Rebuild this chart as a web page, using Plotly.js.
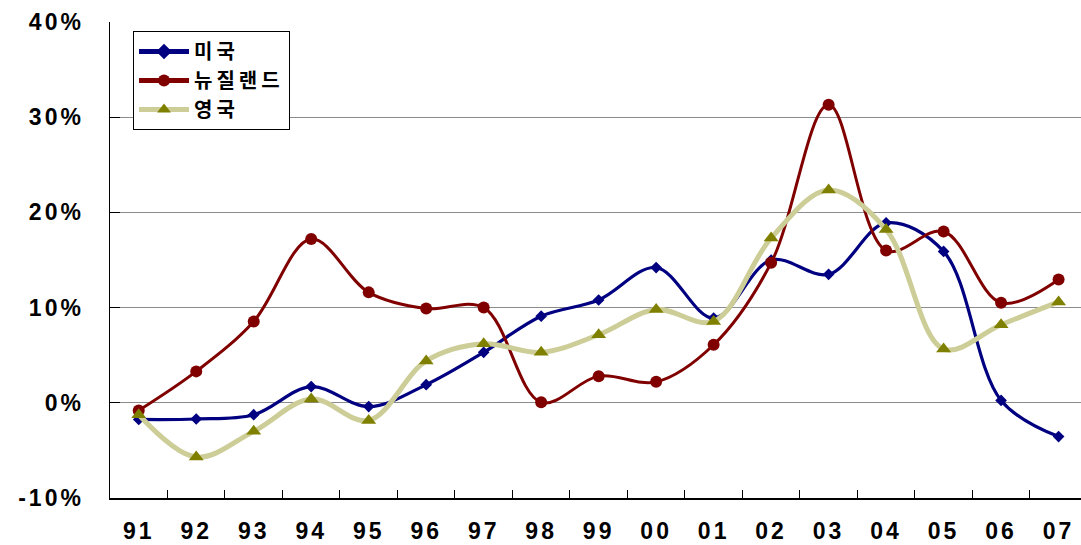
<!DOCTYPE html>
<html>
<head>
<meta charset="utf-8">
<script src="https://cdn.plot.ly/plotly-3.0.1.min.js"></script>
<style>
html,body{margin:0;padding:0;background:#fff;}
#chart{width:1081px;height:545px;}
.xtick text, .ytick text{letter-spacing:3px;}
.legendtext{letter-spacing:4px;}
</style>
</head>
<body>
<div id="chart"></div>
<script>
const years = ["91","92","93","94","95","96","97","98","99","00","01","02","03","04","05","06","07"];
const seriesNames = ["미국","뉴질랜드","영국"];
const usa = [-1.75,-1.7,-1.25,1.7,-0.4,1.9,5.3,9.1,10.8,14.2,8.9,15.0,13.5,18.9,15.9,0.25,-3.55];
const nz  = [-0.8,3.3,8.55,17.2,11.6,9.9,10.0,0.05,2.8,2.2,6.1,14.7,31.3,16.0,18.0,10.5,12.95];
const uk  = [-1.25,-5.7,-3.0,0.4,-1.85,4.4,6.2,5.3,7.15,9.8,8.55,17.3,22.35,18.2,5.65,8.2,10.6];
const yTicks = [-10,0,10,20,30,40];
const yTickLabels = ["-10%","0%","10%","20%","30%","40%"];

const traces = [
  {x: years, y: usa, name: seriesNames[0], type:'scatter', mode:'lines+markers',
   line:{color:'#000080', width:3.2, shape:'spline', smoothing:1},
   marker:{symbol:'diamond', size:9, color:'#000080'}},
  {x: years, y: nz, name: seriesNames[1], type:'scatter', mode:'lines+markers',
   line:{color:'#800000', width:3, shape:'spline', smoothing:1},
   marker:{symbol:'circle', size:12, color:'#800000'}},
  {x: years, y: uk, name: seriesNames[2], type:'scatter', mode:'lines+markers',
   line:{color:'#CDCD98', width:5, shape:'spline', smoothing:1},
   marker:{symbol:'triangle-up', size:13, color:'#808000'}}
];

const tickFont = {family:'Arial, "Liberation Sans", sans-serif', size:23, color:'#000', weight:'bold'};

const layout = {
  width:1081, height:545,
  margin:{l:110, r:0, t:22, b:47},
  paper_bgcolor:'#fff', plot_bgcolor:'#fff',
  showlegend:true,
  legend:{x:0.0237, y:0.981, xanchor:'left', yanchor:'top',
    bgcolor:'#fff', bordercolor:'#000', borderwidth:1,
    font:{family:'"Noto Sans CJK KR", sans-serif', size:20, color:'#000', weight:'bold'},
    tracegroupgap:0, itemsizing:'constant', itemwidth:50},
  xaxis:{type:'category', range:[-0.5,16.39], showgrid:false, zeroline:false,
    showline:true, linecolor:'#000', linewidth:1.5,
    ticks:'inside', tickson:'boundaries', ticklen:8, tickcolor:'#000', tickwidth:1,
    tickfont:tickFont, ticklabelstandoff:12},
  yaxis:{range:[-10,40], tickmode:'array', tickvals:yTicks, ticktext:yTickLabels, showgrid:true, gridcolor:'#8c8c8c', gridwidth:1,
    zeroline:false, showline:true, linecolor:'#000', linewidth:1.5,
    ticks:'inside', ticklen:10, tickcolor:'#000', tickwidth:1,
    tickfont:tickFont, ticklabelstandoff:20}
};

Plotly.newPlot('chart', traces, layout, {displayModeBar:false, staticPlot:true});
</script>
</body>
</html>
